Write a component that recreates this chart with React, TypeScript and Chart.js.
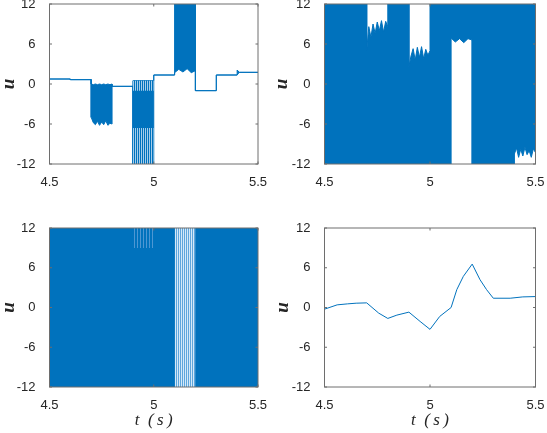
import React, { useEffect, useRef } from "react";
import { Chart, registerables } from "chart.js";

Chart.register(...registerables);

const BLUE = "#0072BD";
const TEXT = "#262626";
const FRAME = "#6e6e6e";

const T_MIN = 4.5;
const T_MAX = 5.5;
const U_MIN = -12;
const U_MAX = 12;
const T_TICKS = [4.5, 5, 5.5];
const U_TICKS = [-12, -6, 0, 6, 12];

// Panel 1: switching control, upper / lower envelope of u(t)
const P1_T = [4.5, 4.6, 4.6, 4.7, 4.7, 4.71, 4.72, 4.73, 4.74, 4.75, 4.76, 4.77, 4.78, 4.79, 4.8, 4.8, 4.9, 4.9, 5.0, 5.0, 5.1, 5.1, 5.12, 5.14, 5.16, 5.18, 5.2, 5.2, 5.3, 5.3, 5.4, 5.4, 5.41, 5.5];
const P1_HI = [0.75, 0.75, 0.65, 0.65, 0, -0.1, 0, -0.1, 0, -0.1, 0, -0.1, 0, -0.1, 0, -0.35, -0.35, 0.5, 0.5, 1.35, 1.35, 12, 12, 12, 12, 12, 12, -1, -1, 1.35, 1.35, 2.1, 1.75, 1.75];
const P1_LO = [0.75, 0.75, 0.65, 0.65, -5.0, -5.8, -6.1, -5.6, -6.2, -5.7, -6.1, -5.5, -6.2, -5.9, -6.0, -0.35, -0.35, -12, -12, 1.35, 1.35, 1.7, 2.2, 1.8, 2.3, 1.7, 2.0, -1, -1, 1.35, 1.35, 1.35, 1.75, 1.75];
// Panel 1: sparsely switched parts of the 4.9–5.0 s interval
const P1_SPARSE_T = [4.9, 5.0];
const P1_SPARSE_A_HI = [0.5, 0.5];
const P1_SPARSE_A_LO = [-1, -1];
const P1_SPARSE_B_HI = [-6.6, -6.6];
const P1_SPARSE_B_LO = [-12, -12];

// Panel 2: envelope of u(t)
const P2_T = [4.5, 4.7, 4.7, 4.71, 4.72, 4.73, 4.74, 4.75, 4.76, 4.77, 4.78, 4.79, 4.8, 4.8, 4.9, 4.9, 4.91, 4.92, 4.93, 4.94, 4.95, 4.96, 4.97, 4.98, 4.99, 5.0, 5.0, 5.1, 5.1, 5.12, 5.14, 5.16, 5.18, 5.2, 5.2, 5.4, 5.4, 5.41, 5.42, 5.43, 5.44, 5.45, 5.46, 5.47, 5.48, 5.49, 5.5];
const P2_HI = [12, 12, 5.0, 8.6, 7.0, 9.0, 7.6, 9.3, 8.0, 9.5, 7.8, 9.4, 8.6, 12, 12, 2.6, 4.2, 5.3, 3.6, 5.5, 4.0, 5.6, 3.8, 5.2, 4.3, 5.0, 12, 12, 12, 12, 12, 12, 12, 12, 12, 12, 12, 12, 12, 12, 12, 12, 12, 12, 12, 12, 12];
const P2_LO = [-12, -12, -12, -12, -12, -12, -12, -12, -12, -12, -12, -12, -12, -12, -12, -12, -12, -12, -12, -12, -12, -12, -12, -12, -12, -12, -12, -12, 6.9, 6.3, 6.8, 6.2, 6.8, 6.6, -12, -12, -10.5, -9.6, -11.0, -9.8, -10.8, -9.5, -10.6, -10.0, -11.0, -9.7, -10.3];

// Panel 3: envelope of u(t) and its sparsely switched interval
const P3_T = [4.5, 5.5];
const P3_HI = [12, 12];
const P3_LO = [-12, -12];
const P3_SPARSE_T = [5.1, 5.2];
const P3_SPARSE_HI = [12, 12];
const P3_SPARSE_LO = [-12, -12];
const P3_FAINT_T = [4.9, 5.0];
const P3_FAINT_HI = [12, 12];
const P3_FAINT_LO = [9, 9];

// Panel 4: smooth control u(t)
const P4_T = [4.5, 4.56, 4.61, 4.65, 4.7, 4.757, 4.8, 4.843, 4.9, 4.953, 5.0, 5.046, 5.1, 5.127, 5.158, 5.2, 5.237, 5.268, 5.3, 5.38, 5.44, 5.5];
const P4_U = [-0.25, 0.4, 0.55, 0.65, 0.7, -0.85, -1.65, -1.15, -0.7, -2.1, -3.3, -1.35, 0.0, 2.7, 4.7, 6.55, 4.2, 2.7, 1.4, 1.4, 1.6, 1.65];

type Area = { l: number; r: number; t: number; b: number };
type Patterns = { sparse: any; light: any; faint: any };

const pts = (t: number[], v: number[]) => t.map((x, i) => ({ x, y: v[i] }));

function stripes(colors: string[]): any {
  const c = document.createElement("canvas");
  c.width = colors.length;
  c.height = 1;
  const g = c.getContext("2d")!;
  colors.forEach((col, i) => {
    g.fillStyle = col;
    g.fillRect(i, 0, 1, 1);
  });
  return g.createPattern(c, "repeat");
}

function band(t: number[], hi: number[], lo: number[], fill: any, order: number, edge: number) {
  return [
    {
      data: pts(t, hi),
      borderColor: BLUE,
      borderWidth: edge,
      pointRadius: 0,
      fill: false,
      order,
    },
    {
      data: pts(t, lo),
      borderColor: BLUE,
      borderWidth: edge,
      pointRadius: 0,
      fill: "-1",
      backgroundColor: fill,
      order,
    },
  ];
}

const framePlugin = {
  id: "frame",
  afterDatasetsDraw(chart: any) {
    const { ctx, chartArea: a, scales } = chart;
    ctx.save();
    ctx.strokeStyle = FRAME;
    ctx.lineWidth = 1;
    ctx.strokeRect(a.left, a.top, a.right - a.left, a.bottom - a.top);
    const len = 2.5;
    ctx.beginPath();
    for (const v of T_TICKS) {
      const x = scales.x.getPixelForValue(v);
      ctx.moveTo(x, a.bottom);
      ctx.lineTo(x, a.bottom - len);
      ctx.moveTo(x, a.top);
      ctx.lineTo(x, a.top + len);
    }
    for (const v of U_TICKS) {
      const y = scales.y.getPixelForValue(v);
      ctx.moveTo(a.left, y);
      ctx.lineTo(a.left + len, y);
      ctx.moveTo(a.right, y);
      ctx.lineTo(a.right - len, y);
    }
    ctx.stroke();
    ctx.restore();
  },
};

type PanelProps = {
  x: number;
  y: number;
  w: number;
  h: number;
  area: Area;
  uPad: number;
  showT: boolean;
  build: (p: Patterns) => any[];
};

const tickFont = { family: "'Liberation Sans', Arial, sans-serif", size: 13 };
const serif = "'Liberation Serif', 'DejaVu Serif', serif";
const uFont = { family: serif, size: 19, style: "italic" as const, weight: "bold" as const, lineHeight: 1 };
const tFont = { family: serif, size: 17, style: "italic" as const, lineHeight: 1 };

function Panel({ x, y, w, h, area, uPad, showT, build }: PanelProps) {
  const ref = useRef<HTMLCanvasElement>(null);
  useEffect(() => {
    const canvas = ref.current!;
    const patterns: Patterns = {
      sparse: stripes([BLUE, "#a7cdea"]),
      light: stripes(["#5ea6dc", "#d5e9f8"]),
      faint: stripes([BLUE, BLUE, "#4d97d3"]),
    };
    const chart = new Chart(canvas, {
      type: "line",
      data: { datasets: build(patterns) },
      plugins: [framePlugin],
      options: {
        responsive: false,
        animation: false,
        devicePixelRatio: 1,
        events: [],
        layout: { padding: { left: 0, top: area.t, right: w - area.r, bottom: 0 } },
        elements: { line: { tension: 0 } },
        plugins: { legend: { display: false }, tooltip: { enabled: false } },
        scales: {
          x: {
            type: "linear",
            min: T_MIN,
            max: T_MAX,
            grid: { display: false },
            border: { display: false },
            ticks: {
              padding: 3,
              font: tickFont,
              color: TEXT,
              maxRotation: 0,
              autoSkip: false,
              callback: (v: any) => String(v),
            },
            afterBuildTicks: (s: any) => {
              s.ticks = T_TICKS.map((value) => ({ value }));
            },
            afterFit: (s: any) => {
              s.height = h - area.b;
              s.paddingLeft = 0;
              s.paddingRight = 0;
            },
            title: {
              display: showT,
              text: "t\u2002(\u2009s\u2009)",
              color: TEXT,
              font: tFont,
              padding: { top: 0, bottom: 4 },
            },
          },
          y: {
            type: "linear",
            min: U_MIN,
            max: U_MAX,
            grid: { display: false },
            border: { display: false },
            ticks: {
              padding: 6,
              font: tickFont,
              color: TEXT,
              autoSkip: false,
              callback: (v: any) => String(v),
            },
            afterBuildTicks: (s: any) => {
              s.ticks = U_TICKS.map((value) => ({ value }));
            },
            afterFit: (s: any) => {
              s.width = area.l;
              s.paddingTop = 0;
              s.paddingBottom = 0;
            },
            title: {
              display: true,
              text: "u",
              color: TEXT,
              font: uFont,
              padding: { top: uPad, bottom: 0 },
            },
          },
        },
      } as any,
    });
    return () => chart.destroy();
  }, []);
  return (
    <canvas
      ref={ref}
      width={w}
      height={h}
      style={{ position: "absolute", left: x, top: y, width: w, height: h }}
    />
  );
}

export default function App() {
  useEffect(() => {
    document.body.style.margin = "0";
  }, []);
  return (
    <div style={{ position: "relative", width: 547, height: 433, background: "#fff" }}>
      <Panel
        x={0}
        y={0}
        w={270}
        h={215}
        area={{ l: 49.5, r: 258, t: 4, b: 164 }}
        uPad={0}
        showT={false}
        build={(p) => [
          ...band(P1_T, P1_HI, P1_LO, BLUE, 2, 1),
          ...band(P1_SPARSE_T, P1_SPARSE_A_HI, P1_SPARSE_A_LO, p.sparse, 1, 0),
          ...band(P1_SPARSE_T, P1_SPARSE_B_HI, P1_SPARSE_B_LO, p.sparse, 1, 0),
        ]}
      />
      <Panel
        x={270}
        y={0}
        w={277}
        h={215}
        area={{ l: 54.5, r: 265.5, t: 4, b: 164 }}
        uPad={3}
        showT={false}
        build={() => [...band(P2_T, P2_HI, P2_LO, BLUE, 1, 1)]}
      />
      <Panel
        x={0}
        y={215}
        w={270}
        h={218}
        area={{ l: 49.5, r: 258, t: 13, b: 172 }}
        uPad={0}
        showT={true}
        build={(p) => [
          ...band(P3_T, P3_HI, P3_LO, BLUE, 2, 1),
          ...band(P3_SPARSE_T, P3_SPARSE_HI, P3_SPARSE_LO, p.light, 1, 0),
          ...band(P3_FAINT_T, P3_FAINT_HI, P3_FAINT_LO, p.faint, 1, 0),
        ]}
      />
      <Panel
        x={270}
        y={215}
        w={277}
        h={218}
        area={{ l: 54.5, r: 265.5, t: 13, b: 172 }}
        uPad={4}
        showT={true}
        build={() => [
          {
            data: pts(P4_T, P4_U),
            borderColor: BLUE,
            borderWidth: 1,
            pointRadius: 0,
            fill: false,
          },
        ]}
      />
    </div>
  );
}
